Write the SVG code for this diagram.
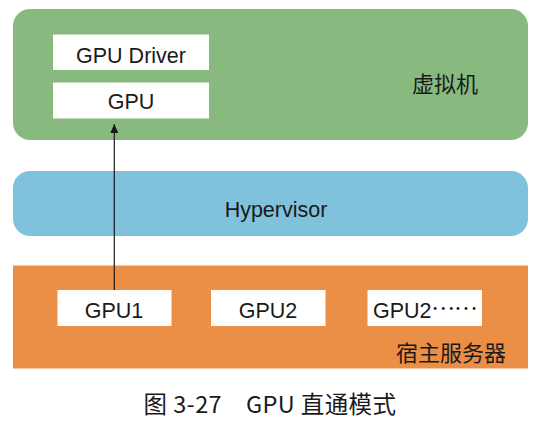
<svg xmlns="http://www.w3.org/2000/svg" width="542" height="424" viewBox="0 0 542 424">
<style>
.t{font-family:"Liberation Sans","Noto Sans CJK SC",sans-serif;font-size:21.5px;fill:#1a1a1a;text-anchor:middle}
.c{font-family:"Noto Sans CJK SC",sans-serif;font-size:22px;fill:#1a1a1a;text-anchor:middle;dominant-baseline:central}
.box{fill:#ffffff}
</style>
<defs>
<marker id="ah" markerWidth="10" markerHeight="10" refX="9" refY="5" orient="auto" markerUnits="userSpaceOnUse">
<path d="M0,1 L9,5 L0,9 Z" fill="#1a1a1a"/>
</marker>
</defs>
<g id="vm">
<rect x="13" y="9" width="515" height="131" rx="17" fill="#88BA80"/>
<text class="c" x="445" y="82">虚拟机</text>
</g>
<g id="gpu-driver">
<rect class="box" x="53" y="34.5" width="156" height="35.5"/>
<text class="t" x="131" y="63.3">GPU Driver</text>
</g>
<g id="vgpu">
<rect class="box" x="53" y="82.5" width="156" height="36"/>
<text class="t" x="131" y="109.3">GPU</text>
</g>
<g id="hypervisor">
<rect x="13" y="171" width="515" height="65" rx="17" fill="#80C2DB"/>
<text class="t" x="276" y="217">Hypervisor</text>
</g>
<g id="host">
<rect x="13" y="265.5" width="515" height="103" fill="#EB8E46"/>
<text class="c" x="451" y="351">宿主服务器</text>
</g>
<g id="gpu1">
<rect class="box" x="57.5" y="290" width="114" height="36"/>
<text class="t" x="114" y="318">GPU1</text>
</g>
<g id="gpu2">
<rect class="box" x="211" y="290" width="114.5" height="36"/>
<text class="t" x="268" y="318">GPU2</text>
</g>
<g id="gpu3">
<rect class="box" x="367.5" y="290" width="114.5" height="36"/>
<text class="t" x="425" y="318">GPU2<tspan font-family="Noto Sans CJK SC,sans-serif" dy="-8">……</tspan></text>
</g>
<g id="connectors">
<line x1="114.3" y1="290" x2="114.3" y2="124" stroke="#1a1a1a" stroke-width="1.2" marker-end="url(#ah)"/>
</g>
<g id="caption">
<text x="270" y="403" font-family="Noto Sans CJK SC,sans-serif" font-size="23.5" letter-spacing="0.4" fill="#1a1a1a" text-anchor="middle" dominant-baseline="central" xml:space="preserve">图 3-27　GPU 直通模式</text>
</g>
</svg>
